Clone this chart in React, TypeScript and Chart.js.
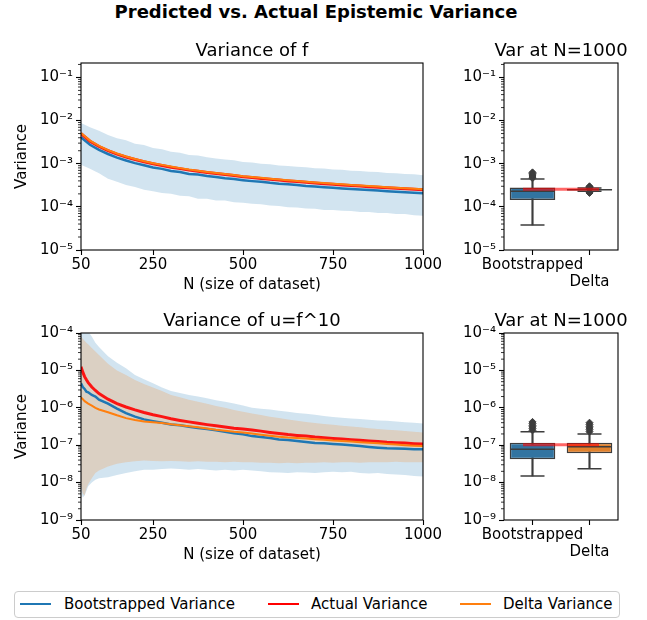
import React, { useEffect, useRef } from 'react';
import { Chart, registerables } from 'chart.js';

Chart.register(...registerables);

const FONT = "'DejaVu Sans', 'Liberation Sans', sans-serif";
Chart.defaults.font.family = FONT;
Chart.defaults.color = '#000';

// ---------------- data ----------------
const TOP_N = [50, 75, 100, 125, 150, 175, 200, 225, 250, 275, 300, 325, 350, 375, 400, 425, 450, 475, 500, 525, 550, 575, 600, 625, 650, 675, 700, 725, 750, 775, 800, 825, 850, 875, 900, 925, 950, 975, 1000];
const TOP_ACTUAL = [5.0e-3, 3.33e-3, 2.5e-3, 2.0e-3, 1.67e-3, 1.43e-3, 1.25e-3, 1.11e-3, 1.0e-3, 9.1e-4, 8.3e-4, 7.7e-4, 7.1e-4, 6.7e-4, 6.25e-4, 5.9e-4, 5.6e-4, 5.3e-4, 5.0e-4, 4.8e-4, 4.55e-4, 4.35e-4, 4.17e-4, 4.0e-4, 3.85e-4, 3.7e-4, 3.57e-4, 3.45e-4, 3.33e-4, 3.23e-4, 3.13e-4, 3.03e-4, 2.94e-4, 2.86e-4, 2.78e-4, 2.7e-4, 2.63e-4, 2.56e-4, 2.5e-4];
const TOP_DELTA = [5.15e-3, 3.43e-3, 2.58e-3, 2.06e-3, 1.72e-3, 1.47e-3, 1.29e-3, 1.14e-3, 1.03e-3, 9.4e-4, 8.6e-4, 7.9e-4, 7.3e-4, 6.9e-4, 6.45e-4, 6.1e-4, 5.75e-4, 5.45e-4, 5.15e-4, 4.95e-4, 4.7e-4, 4.5e-4, 4.3e-4, 4.12e-4, 3.97e-4, 3.82e-4, 3.68e-4, 3.55e-4, 3.43e-4, 3.33e-4, 3.22e-4, 3.12e-4, 3.03e-4, 2.95e-4, 2.86e-4, 2.78e-4, 2.71e-4, 2.64e-4, 2.57e-4];
const TOP_BOOT = [4.1e-3, 2.75e-3, 2.1e-3, 1.68e-3, 1.38e-3, 1.19e-3, 1.03e-3, 9.2e-4, 8.2e-4, 7.6e-4, 6.8e-4, 6.4e-4, 5.8e-4, 5.6e-4, 5.2e-4, 4.9e-4, 4.6e-4, 4.4e-4, 4.15e-4, 3.95e-4, 3.8e-4, 3.6e-4, 3.45e-4, 3.35e-4, 3.2e-4, 3.05e-4, 2.95e-4, 2.85e-4, 2.78e-4, 2.68e-4, 2.6e-4, 2.52e-4, 2.45e-4, 2.38e-4, 2.3e-4, 2.24e-4, 2.18e-4, 2.12e-4, 2.06e-4];
const TOP_BOOT_HI = [8.8e-3, 7.0e-3, 5.8e-3, 4.6e-3, 3.9e-3, 3.5e-3, 2.9e-3, 2.7e-3, 2.3e-3, 2.15e-3, 1.9e-3, 1.8e-3, 1.6e-3, 1.55e-3, 1.42e-3, 1.32e-3, 1.25e-3, 1.2e-3, 1.1e-3, 1.06e-3, 1.0e-3, 9.7e-4, 9.1e-4, 8.9e-4, 8.5e-4, 8.3e-4, 7.9e-4, 7.7e-4, 7.3e-4, 7.2e-4, 6.9e-4, 6.8e-4, 6.5e-4, 6.4e-4, 6.1e-4, 6.0e-4, 5.8e-4, 5.7e-4, 5.4e-4];
const TOP_BOOT_LO = [9.5e-4, 7.6e-4, 6.0e-4, 4.5e-4, 3.8e-4, 3.2e-4, 2.9e-4, 2.5e-4, 2.3e-4, 2.1e-4, 2.0e-4, 1.8e-4, 1.75e-4, 1.55e-4, 1.55e-4, 1.4e-4, 1.4e-4, 1.28e-4, 1.25e-4, 1.18e-4, 1.15e-4, 1.08e-4, 1.05e-4, 9.8e-5, 9.6e-5, 9.1e-5, 9.0e-5, 8.5e-5, 8.5e-5, 8.1e-5, 8.0e-5, 7.6e-5, 7.6e-5, 7.2e-5, 7.2e-5, 6.8e-5, 6.8e-5, 6.4e-5, 6.2e-5];

const BOT_N = [50, 55, 60, 65, 70, 80, 90, 100, 125, 150, 175, 200, 225, 250, 275, 300, 325, 350, 375, 400, 425, 450, 475, 500, 525, 550, 575, 600, 625, 650, 675, 700, 725, 750, 775, 800, 825, 850, 875, 900, 925, 950, 975, 1000];
const BOT_ACTUAL = [1.25e-5, 9.0e-6, 6.8e-6, 5.6e-6, 4.7e-6, 3.6e-6, 2.9e-6, 2.4e-6, 1.7e-6, 1.3e-6, 1.05e-6, 8.8e-7, 7.5e-7, 6.5e-7, 5.8e-7, 5.1e-7, 4.6e-7, 4.2e-7, 3.85e-7, 3.55e-7, 3.3e-7, 3.05e-7, 2.85e-7, 2.7e-7, 2.55e-7, 2.38e-7, 2.2e-7, 2.05e-7, 1.92e-7, 1.83e-7, 1.75e-7, 1.65e-7, 1.58e-7, 1.52e-7, 1.46e-7, 1.4e-7, 1.35e-7, 1.3e-7, 1.25e-7, 1.2e-7, 1.17e-7, 1.14e-7, 1.1e-7, 1.07e-7];
const BOT_BOOT = [4.5e-6, 3.6e-6, 3.2e-6, 2.7e-6, 2.6e-6, 2.2e-6, 2.0e-6, 1.65e-6, 1.3e-6, 9.5e-7, 7.2e-7, 5.8e-7, 4.9e-7, 4.4e-7, 4.0e-7, 3.6e-7, 3.4e-7, 3.1e-7, 2.9e-7, 2.7e-7, 2.5e-7, 2.3e-7, 2.1e-7, 1.95e-7, 1.75e-7, 1.65e-7, 1.55e-7, 1.42e-7, 1.38e-7, 1.3e-7, 1.22e-7, 1.15e-7, 1.12e-7, 1.08e-7, 1.04e-7, 1.0e-7, 9.5e-8, 9.0e-8, 8.6e-8, 8.3e-8, 8.2e-8, 8.0e-8, 7.8e-8, 7.8e-8];
const BOT_DELTA = [1.9e-6, 1.7e-6, 1.5e-6, 1.4e-6, 1.3e-6, 1.15e-6, 1.0e-6, 9.0e-7, 7.6e-7, 6.3e-7, 5.3e-7, 4.7e-7, 4.3e-7, 4.1e-7, 3.9e-7, 3.65e-7, 3.4e-7, 3.2e-7, 3.0e-7, 2.8e-7, 2.6e-7, 2.45e-7, 2.3e-7, 2.2e-7, 2.05e-7, 1.9e-7, 1.78e-7, 1.68e-7, 1.6e-7, 1.55e-7, 1.5e-7, 1.45e-7, 1.4e-7, 1.34e-7, 1.3e-7, 1.25e-7, 1.2e-7, 1.16e-7, 1.12e-7, 1.07e-7, 1.04e-7, 1.0e-7, 9.7e-8, 9.5e-8];
const BOT_DELTA_HI = [8e-5, 7e-5, 6.2e-5, 5.5e-5, 5.0e-5, 4.0e-5, 3.2e-5, 2.6e-5, 1.5e-5, 1.0e-5, 7.5e-6, 5.5e-6, 4.3e-6, 3.5e-6, 2.8e-6, 2.2e-6, 1.9e-6, 1.65e-6, 1.45e-6, 1.28e-6, 1.12e-6, 1.0e-6, 8.8e-7, 7.8e-7, 7.0e-7, 6.4e-7, 5.8e-7, 5.3e-7, 4.9e-7, 4.5e-7, 4.2e-7, 3.95e-7, 3.7e-7, 3.5e-7, 3.3e-7, 3.15e-7, 3.0e-7, 2.85e-7, 2.7e-7, 2.6e-7, 2.5e-7, 2.4e-7, 2.3e-7, 2.2e-7];
const BOT_DELTA_LO = [8e-9, 5e-9, 4.5e-9, 7e-9, 9e-9, 1.3e-8, 1.8e-8, 2.1e-8, 2.7e-8, 3.2e-8, 3.5e-8, 3.7e-8, 3.9e-8, 3.8e-8, 3.7e-8, 3.8e-8, 3.7e-8, 3.6e-8, 3.7e-8, 3.6e-8, 3.6e-8, 3.5e-8, 3.6e-8, 3.5e-8, 3.5e-8, 3.4e-8, 3.4e-8, 3.3e-8, 3.4e-8, 3.3e-8, 3.4e-8, 3.4e-8, 3.5e-8, 3.4e-8, 3.5e-8, 3.5e-8, 3.4e-8, 3.5e-8, 3.5e-8, 3.5e-8, 3.6e-8, 3.5e-8, 3.5e-8, 3.5e-8];
const BOT_BOOT_HI = [2.0e-4, 1.8e-4, 1.6e-4, 1.3e-4, 1.1e-4, 8.0e-5, 5.5e-5, 4.2e-5, 2.4e-5, 1.6e-5, 1.15e-5, 7.5e-6, 5.8e-6, 4.5e-6, 3.5e-6, 2.8e-6, 2.5e-6, 2.2e-6, 2.0e-6, 1.8e-6, 1.6e-6, 1.45e-6, 1.3e-6, 1.15e-6, 1.0e-6, 9.5e-7, 9.0e-7, 8.3e-7, 7.8e-7, 7.3e-7, 6.9e-7, 6.5e-7, 6.0e-7, 5.7e-7, 5.4e-7, 5.2e-7, 5.0e-7, 4.8e-7, 4.6e-7, 4.5e-7, 4.3e-7, 4.1e-7, 4.0e-7, 3.8e-7];
const BOT_BOOT_LO = [6e-9, 4e-9, 4.5e-9, 6e-9, 8e-9, 1.0e-8, 1.2e-8, 1.3e-8, 1.4e-8, 1.6e-8, 1.8e-8, 2.0e-8, 2.2e-8, 2.2e-8, 2.3e-8, 2.4e-8, 2.3e-8, 2.2e-8, 2.3e-8, 2.2e-8, 2.1e-8, 2.2e-8, 2.1e-8, 2.2e-8, 2.1e-8, 2.0e-8, 1.9e-8, 1.85e-8, 1.8e-8, 1.9e-8, 1.85e-8, 1.8e-8, 1.9e-8, 1.95e-8, 1.9e-8, 1.95e-8, 1.8e-8, 1.75e-8, 1.8e-8, 1.7e-8, 1.65e-8, 1.6e-8, 1.5e-8, 1.45e-8];

const X_TICKS = [50, 250, 500, 750, 1000];

const BOX_CATS = ['Bootstrapped', 'Delta'];
// top box plot (Var of f at N=1000)
const TOP_BOX_Q1 = [1.45e-4, 2.45e-4];
const TOP_BOX_Q3 = [2.8e-4, 2.56e-4];
const TOP_BOX_MED = [2.3e-4, 2.5e-4];
const TOP_BOX_WLO = [3.8e-5, 2.3e-4];
const TOP_BOX_WHI = [4.4e-4, 2.72e-4];
const TOP_OUT_BOOT = [4.6e-4, 4.9e-4, 5.2e-4, 5.5e-4, 5.9e-4, 6.3e-4];
const TOP_OUT_DELTA = [2.1e-4, 2.2e-4, 2.8e-4, 2.9e-4, 3.0e-4];
const TOP_ACTUAL_1000 = 2.55e-4;
// bottom box plot (Var of u at N=1000)
const BOT_BOX_Q1 = [4.2e-8, 6.1e-8];
const BOT_BOX_Q3 = [1.17e-7, 1.17e-7];
const BOT_BOX_MED = [7.8e-8, 9.1e-8];
const BOT_BOX_WLO = [1.5e-8, 2.35e-8];
const BOT_BOX_WHI = [2.3e-7, 2.0e-7];
const BOT_OUT_BOOT = [2.5e-7, 2.8e-7, 3.1e-7, 3.4e-7, 3.8e-7, 4.2e-7];
const BOT_OUT_DELTA = [2.3e-7, 2.6e-7, 2.9e-7, 3.2e-7, 3.6e-7, 4.0e-7];
const BOT_ACTUAL_1000 = 1.03e-7;

const LEGEND_LABELS = ['Bootstrapped Variance', 'Actual Variance', 'Delta Variance'];

// ---------------- styles ----------------
const BLUE = '#1f77b4';
const ORANGE = '#ff7f0e';
const RED = 'rgba(255,0,0,0.9)';
const BLUE_BAND = 'rgba(31,119,180,0.2)';
const ORANGE_BAND = 'rgba(255,127,14,0.2)';
const BOX_BLUE = '#3274a1';
const BOX_ORANGE = '#e1812c';
const GRAY = '#3d3d3d';
const LEGEND_COLORS = [BLUE, 'red', ORANGE];

const SUP: Record<string, string> = { '0': '⁰', '1': '¹', '2': '²', '3': '³', '4': '⁴', '5': '⁵', '6': '⁶', '7': '⁷', '8': '⁸', '9': '⁹', '-': '⁻' };
const sup = (s: string) => s.split('').map((c) => SUP[c] ?? c).join('');
const p10 = (e: number) => parseFloat('1e' + e);
const decades = (min: number, max: number) => {
  const out: number[] = [];
  for (let e = Math.round(Math.log10(min)) - 1; e <= Math.round(Math.log10(max)) + 1; e++) {
    const v = p10(e);
    if (v >= min * 0.999999 && v <= max * 1.000001) out.push(v);
  }
  return out;
};
const logLabel = (v: number) => {
  const e = Math.round(Math.log10(v));
  return Math.abs(v - p10(e)) / v < 1e-6 ? '10' + sup(String(e)) : '';
};

const axesDecor = {
  id: 'axesDecor',
  afterDraw(chart: any) {
    const { ctx, chartArea } = chart;
    const { left, right, top, bottom } = chartArea;
    const ys = chart.scales.y;
    ctx.save();
    ctx.strokeStyle = '#000';
    ctx.lineWidth = 0.8;
    const e0 = Math.floor(Math.log10(ys.min)) - 1;
    const e1 = Math.ceil(Math.log10(ys.max)) + 1;
    for (let e = e0; e <= e1; e++) {
      for (let k = 2; k <= 9; k++) {
        const v = k * p10(e);
        if (v < ys.min || v > ys.max) continue;
        const y = ys.getPixelForValue(v);
        ctx.beginPath();
        ctx.moveTo(left - 3, y);
        ctx.lineTo(left, y);
        ctx.stroke();
      }
    }
    ctx.lineWidth = 1.1;
    ctx.strokeRect(left, top, right - left, bottom - top);
    ctx.restore();
  },
};

const tickGrid = { drawOnChartArea: false, tickLength: 5, tickWidth: 1.1, tickColor: '#000' };

function yScale(min: number, max: number, width: number, title?: string) {
  return {
    type: 'logarithmic',
    min,
    max,
    afterBuildTicks: (s: any) => {
      s.ticks = decades(min, max).map((v) => ({ value: v }));
    },
    afterFit: (s: any) => {
      s.width = width;
    },
    ticks: { callback: (v: number) => logLabel(v), font: { size: 15 }, padding: 3, autoSkip: false, color: '#000' },
    grid: tickGrid,
    border: { display: false },
    title: { display: !!title, text: title || '', font: { size: 15 }, padding: { top: 13.5, bottom: 0 }, color: '#000' },
  };
}

// invisible spacer axis on the right, reserving room so titles can span the full canvas
function rightSpacer(width: number) {
  return {
    type: 'linear',
    position: 'right',
    display: true,
    ticks: { display: false },
    grid: { display: false, drawTicks: false },
    border: { display: false },
    afterFit: (s: any) => {
      s.width = width;
    },
  };
}

function titleOpts(text: string, fullSize: boolean) {
  return {
    display: true,
    text,
    fullSize,
    font: { size: 18, weight: 'normal', lineHeight: 1.0 },
    color: '#000',
    padding: { top: 12, bottom: 3 },
  };
}

type LineParams = {
  title: string;
  N: number[];
  yMin: number;
  yMax: number;
  boot: number[];
  bootHi: number[];
  bootLo: number[];
  actual: number[];
  delta: number[];
  deltaHi?: number[];
  deltaLo?: number[];
};

function lineConfig(p: LineParams) {
  const pts = (arr: number[]) => p.N.map((n, i) => ({ x: n, y: arr[i] }));
  const datasets: any[] = [
    { label: 'Delta Variance', data: pts(p.delta), borderColor: ORANGE, borderWidth: 2, pointRadius: 0, order: 0 },
    { label: 'Actual Variance', data: pts(p.actual), borderColor: RED, borderWidth: 3, pointRadius: 0, order: 1 },
    { label: 'Bootstrapped Variance', data: pts(p.boot), borderColor: BLUE, borderWidth: 2.5, pointRadius: 0, order: 2 },
  ];
  if (p.deltaHi && p.deltaLo) {
    datasets.push({ data: pts(p.deltaHi), fill: { target: datasets.length + 1 }, backgroundColor: ORANGE_BAND, borderColor: 'rgba(0,0,0,0)', borderWidth: 0, pointRadius: 0, order: 3 });
    datasets.push({ data: pts(p.deltaLo), fill: false, borderColor: 'rgba(0,0,0,0)', borderWidth: 0, pointRadius: 0, order: 4 });
  }
  datasets.push({ data: pts(p.bootHi), fill: { target: datasets.length + 1 }, backgroundColor: BLUE_BAND, borderColor: 'rgba(0,0,0,0)', borderWidth: 0, pointRadius: 0, order: 5 });
  datasets.push({ data: pts(p.bootLo), fill: false, borderColor: 'rgba(0,0,0,0)', borderWidth: 0, pointRadius: 0, order: 6 });

  return {
    type: 'line',
    data: { datasets },
    plugins: [axesDecor],
    options: {
      responsive: false,
      animation: false,
      devicePixelRatio: 1,
      events: [],
      layout: { padding: { left: 0, top: 0, right: 27, bottom: 0 } },
      plugins: { legend: { display: false }, tooltip: { enabled: false }, title: titleOpts(p.title, false) },
      scales: {
        x: {
          type: 'linear',
          min: 50,
          max: 1000,
          afterBuildTicks: (s: any) => {
            s.ticks = X_TICKS.map((v) => ({ value: v }));
          },
          afterFit: (s: any) => {
            s.height = 50;
            s.paddingLeft = 0;
            s.paddingRight = 0;
          },
          ticks: { callback: (v: number) => String(v), font: { size: 15, lineHeight: 1.1 }, padding: 2, maxRotation: 0, minRotation: 0, autoSkip: false, color: '#000' },
          grid: tickGrid,
          border: { display: false },
          title: { display: true, text: 'N (size of dataset)', font: { size: 15 }, padding: { top: 0, bottom: 6 }, color: '#000' },
        },
        y: yScale(p.yMin, p.yMax, 81, 'Variance'),
      },
    },
  };
}

type BoxParams = {
  yMin: number;
  yMax: number;
  q1: number[];
  q3: number[];
  med: number[];
  wlo: number[];
  whi: number[];
  outBoot: number[];
  outDelta: number[];
  actual: number;
};

function boxConfig(p: BoxParams) {
  const cats = BOX_CATS;
  const outliers = [
    ...p.outBoot.map((v) => ({ x: cats[0], y: v })),
    ...p.outDelta.map((v) => ({ x: cats[1], y: v })),
  ];
  return {
    type: 'bar',
    data: {
      labels: cats,
      datasets: [
        { type: 'line', xAxisID: 'xr', data: [{ x: 0, y: p.actual }, { x: 1, y: p.actual }], borderColor: 'rgba(255,0,0,0.6)', borderWidth: 3, pointRadius: 0, order: 0 },
        { type: 'line', showLine: false, data: outliers, pointStyle: 'rectRot', pointRadius: 3.5, pointBackgroundColor: GRAY, pointBorderColor: GRAY, pointBorderWidth: 1, order: 1 },
        { type: 'line', showLine: false, data: cats.map((c, i) => ({ x: c, y: p.med[i] })), pointStyle: 'line', pointRadius: 22.5, pointBorderColor: GRAY, pointBorderWidth: 1.5, order: 2 },
        {
          type: 'line',
          showLine: false,
          data: [...cats.map((c, i) => ({ x: c, y: p.wlo[i] })), ...cats.map((c, i) => ({ x: c, y: p.whi[i] }))],
          pointStyle: 'line',
          pointRadius: 12,
          pointBorderColor: GRAY,
          pointBorderWidth: 1.5,
          order: 3,
        },
        { type: 'bar', data: cats.map((c, i) => [p.q1[i], p.q3[i]]), backgroundColor: [BOX_BLUE, BOX_ORANGE], borderColor: GRAY, borderWidth: 1.5, borderSkipped: false, barPercentage: 0.8, categoryPercentage: 1, grouped: false, order: 4 },
        { type: 'bar', data: cats.map((c, i) => [p.wlo[i], p.whi[i]]), backgroundColor: GRAY, barThickness: 1.5, grouped: false, order: 5 },
      ],
    },
    plugins: [axesDecor],
    options: {
      responsive: false,
      animation: false,
      devicePixelRatio: 1,
      events: [],
      layout: { padding: 0 },
      plugins: { legend: { display: false }, tooltip: { enabled: false }, title: titleOpts('Var at N=1000', true) },
      scales: {
        x: {
          type: 'category',
          offset: true,
          afterFit: (s: any) => {
            s.height = 50;
            s.paddingLeft = 0;
            s.paddingRight = 0;
          },
          ticks: {
            autoSkip: false,
            maxRotation: 0,
            minRotation: 0,
            padding: 2,
            font: { size: 15, lineHeight: 1.1 },
            color: '#000',
            callback: (v: any, i: number) => (i % 2 ? ['', cats[i]] : cats[i]),
          },
          grid: { ...tickGrid, offset: false },
          border: { display: false },
        },
        xr: { type: 'linear', min: 0, max: 1, display: false },
        y: yScale(p.yMin, p.yMax, 64),
        yr: rightSpacer(64),
      },
    },
  };
}

function ChartCanvas({ make, left, top, width, height }: { make: () => any; left: number; top: number; width: number; height: number }) {
  const ref = useRef<HTMLCanvasElement>(null);
  useEffect(() => {
    const chart = new Chart(ref.current as HTMLCanvasElement, make());
    return () => chart.destroy();
  }, []);
  return <canvas ref={ref} width={width} height={height} style={{ position: 'absolute', left, top, width, height }} />;
}

const TOP_Y_MIN = 1e-5;
const TOP_Y_MAX = 0.216;
const BOT_Y_MIN = 1e-9;
const BOT_Y_MAX = 1e-4;

const makeTopLine = () =>
  lineConfig({ title: 'Variance of f', N: TOP_N, yMin: TOP_Y_MIN, yMax: TOP_Y_MAX, boot: TOP_BOOT, bootHi: TOP_BOOT_HI, bootLo: TOP_BOOT_LO, actual: TOP_ACTUAL, delta: TOP_DELTA });
const makeBotLine = () =>
  lineConfig({ title: 'Variance of u=f^10', N: BOT_N, yMin: BOT_Y_MIN, yMax: BOT_Y_MAX, boot: BOT_BOOT, bootHi: BOT_BOOT_HI, bootLo: BOT_BOOT_LO, actual: BOT_ACTUAL, delta: BOT_DELTA, deltaHi: BOT_DELTA_HI, deltaLo: BOT_DELTA_LO });
const makeTopBox = () =>
  boxConfig({ yMin: TOP_Y_MIN, yMax: TOP_Y_MAX, q1: TOP_BOX_Q1, q3: TOP_BOX_Q3, med: TOP_BOX_MED, wlo: TOP_BOX_WLO, whi: TOP_BOX_WHI, outBoot: TOP_OUT_BOOT, outDelta: TOP_OUT_DELTA, actual: TOP_ACTUAL_1000 });
const makeBotBox = () =>
  boxConfig({ yMin: BOT_Y_MIN, yMax: BOT_Y_MAX, q1: BOT_BOX_Q1, q3: BOT_BOX_Q3, med: BOT_BOX_MED, wlo: BOT_BOX_WLO, whi: BOT_BOX_WHI, outBoot: BOT_OUT_BOOT, outDelta: BOT_OUT_DELTA, actual: BOT_ACTUAL_1000 });

const LEGEND_LINE_X = [20, 268, 460];
const LEGEND_TEXT_X = [64, 311, 503];

export default function App() {
  return (
    <div style={{ position: 'absolute', left: 0, top: 0, width: 647, height: 620, background: '#fff', fontFamily: FONT, color: '#000', overflow: 'hidden' }}>
      <div style={{ position: 'absolute', left: 0, top: 1, width: 632, textAlign: 'center', fontWeight: 'bold', fontSize: 18, lineHeight: '22px', whiteSpace: 'nowrap' }}>
        Predicted vs. Actual Epistemic Variance
      </div>
      <ChartCanvas make={makeTopLine} left={0} top={30} width={450} height={270} />
      <ChartCanvas make={makeTopBox} left={440} top={30} width={242} height={270} />
      <ChartCanvas make={makeBotLine} left={0} top={300} width={450} height={270} />
      <ChartCanvas make={makeBotBox} left={440} top={300} width={242} height={270} />
      <div style={{ position: 'absolute', left: 14, top: 591, width: 606, height: 27, border: '1px solid #cccccc', borderRadius: 4, boxSizing: 'border-box', background: 'rgba(255,255,255,0.8)' }} />
      {LEGEND_LABELS.map((label, i) => (
        <React.Fragment key={label}>
          <div style={{ position: 'absolute', left: LEGEND_LINE_X[i], top: 603, width: 31, height: 2, background: LEGEND_COLORS[i] }} />
          <div style={{ position: 'absolute', left: LEGEND_TEXT_X[i], top: 595, fontSize: 15, lineHeight: '18px', whiteSpace: 'nowrap' }}>{label}</div>
        </React.Fragment>
      ))}
    </div>
  );
}
